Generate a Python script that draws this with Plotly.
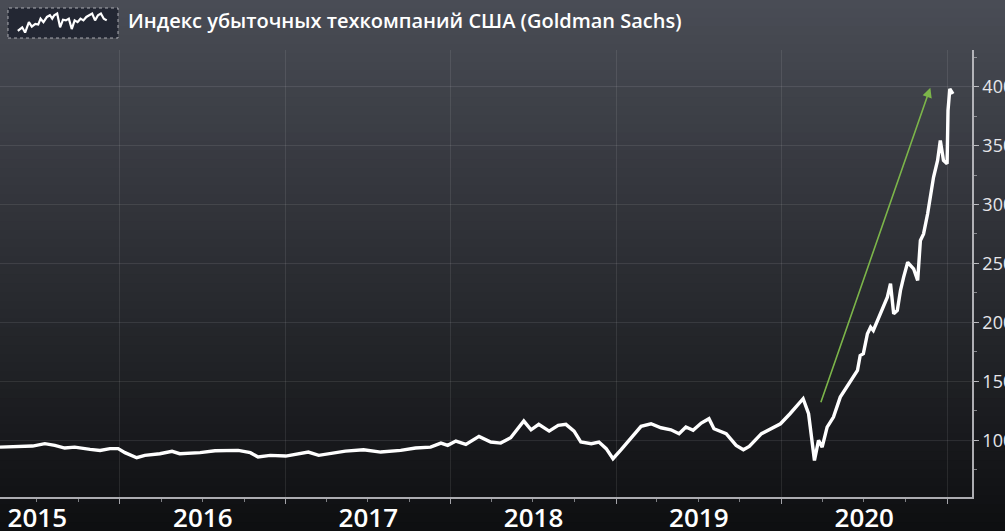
import plotly.graph_objects as go

# ---- data ----
dates = [
    "2015-04-11", "2015-06-22", "2015-07-19", "2015-08-10", "2015-09-01", "2015-09-23",
    "2015-10-27", "2015-11-18", "2015-12-10", "2015-12-28", "2016-01-12", "2016-02-07",
    "2016-02-25", "2016-03-29", "2016-04-25", "2016-05-12", "2016-06-26", "2016-07-29",
    "2016-09-18", "2016-10-15", "2016-11-01", "2016-11-28", "2017-01-01", "2017-02-03",
    "2017-02-20", "2017-03-15", "2017-04-10", "2017-05-13", "2017-06-22", "2017-07-30",
    "2017-09-12", "2017-10-15", "2017-11-17", "2017-12-10", "2017-12-25", "2018-01-12",
    "2018-02-03", "2018-03-04", "2018-03-30", "2018-04-21", "2018-05-13", "2018-06-11",
    "2018-06-27", "2018-07-14", "2018-08-06", "2018-08-26", "2018-09-12", "2018-09-30",
    "2018-10-15", "2018-11-07", "2018-11-24", "2018-12-10", "2018-12-25", "2019-01-12",
    "2019-02-25", "2019-03-19", "2019-04-10", "2019-05-02", "2019-05-20", "2019-06-04",
    "2019-06-20", "2019-07-08", "2019-07-25", "2019-08-05", "2019-09-01", "2019-09-23",
    "2019-10-09", "2019-10-22", "2019-11-18", "2019-12-10", "2019-12-30", "2020-01-20",
    "2020-02-05", "2020-02-18", "2020-03-01", "2020-03-14", "2020-03-23", "2020-03-31",
    "2020-04-11", "2020-04-25", "2020-05-10", "2020-05-26", "2020-06-08", "2020-06-17",
    "2020-06-23", "2020-06-30", "2020-07-09", "2020-07-16", "2020-07-22", "2020-07-31",
    "2020-08-07", "2020-08-13", "2020-08-22", "2020-08-29", "2020-09-05", "2020-09-13",
    "2020-09-20", "2020-09-27", "2020-10-06", "2020-10-19", "2020-10-28", "2020-11-03",
    "2020-11-10", "2020-11-19", "2020-11-25", "2020-12-02", "2020-12-11", "2020-12-17",
    "2020-12-24", "2021-01-01", "2021-01-03", "2021-01-07", "2021-01-14",
]
values = [
    94.3, 95.2, 97.2, 95.8, 93.5, 94.3,
    92.4, 91.5, 93.0, 93.0, 89.6, 85.3,
    87.3, 88.7, 90.7, 88.7, 89.6, 91.2,
    91.5, 89.6, 85.9, 87.3, 86.7, 88.7,
    90.1, 87.3, 88.7, 90.9, 92.1, 90.1,
    91.5, 93.5, 94.3, 97.7, 95.8, 99.4,
    96.6, 103.4, 98.6, 97.7, 102.3, 116.4,
    109.0, 113.6, 107.9, 112.7, 113.6, 107.9,
    98.6, 97.2, 98.6, 93.0, 84.5, 92.1,
    111.9, 114.1, 110.7, 109.0, 105.7, 111.3,
    108.5, 114.7, 118.4, 109.9, 105.7, 95.8,
    92.1, 94.9, 105.7, 109.9, 114.1, 122.6,
    129.7, 135.3, 122.6, 83.0, 100.0, 94.3,
    111.3, 119.8, 136.7, 146.6, 153.6, 159.3,
    172.0, 173.5, 190.4, 196.0, 193.2, 201.7,
    207.3, 213.0, 221.4, 232.8, 207.3, 210.2,
    227.1, 238.4, 251.0, 245.5, 235.6, 269.5,
    275.1, 292.1, 306.2, 323.1, 337.3, 354.2,
    337.3, 334.5, 379.7, 398.0, 393.8,
]

y_ticks = [100, 150, 200, 250, 300, 350, 400]
x_range = ["2015-04-11", "2021-02-25"]
y_range = [52, 431]

arrow_tail = ("2020-03-27", 131)
arrow_head = ("2020-11-25", 399)

title_text = "Индекс убыточных техкомпаний США (Goldman Sachs)"

icon_x = [40, 55, 65, 78, 88, 100, 110, 118, 128, 140, 150, 158, 165, 175, 185, 195,
          205, 215, 225, 235, 245, 255, 265, 275, 285, 295, 305, 315, 325, 335, 345]
icon_y = [55, 65, 50, 80, 67, 75, 73, 90, 80, 95, 100, 90, 100, 105, 65, 87,
          85, 90, 60, 85, 80, 90, 85, 95, 100, 105, 85, 100, 105, 90, 85]

# ---- figure ----
W, H = 1005, 531
ML, MR, MT, MB = 0, 33, 0, 34
PW, PH = W - ML - MR, H - MT - MB
plot_top_px = 50


def px_x(p):
    return (p - ML) / PW


def px_y(p):
    return (H - MB - p) / PH


fig = go.Figure()

fig.add_trace(go.Scatter(
    x=dates, y=values, mode="lines",
    line=dict(color="white", width=3.4, shape="linear"),
    xaxis="x", yaxis="y", showlegend=False, hoverinfo="x+y",
))

fig.add_trace(go.Scatter(
    x=icon_x, y=icon_y, mode="lines",
    line=dict(color="white", width=2.2),
    xaxis="x2", yaxis="y2", showlegend=False, hoverinfo="skip",
))

# background gradient (decoration)
shapes = []
n = 60
top_c = (74, 77, 86)
bot_c = (14, 15, 17)
for i in range(n):
    t0 = i / n
    t1 = (i + 1) / n
    tm = (t0 + t1) / 2
    c = tuple(int(top_c[k] + (bot_c[k] - top_c[k]) * tm) for k in range(3))
    shapes.append(dict(
        type="rect", xref="paper", yref="paper",
        x0=px_x(-5), x1=px_x(W + 5),
        y0=px_y(t1 * H + 1), y1=px_y(t0 * H),
        fillcolor="rgb(%d,%d,%d)" % c, line=dict(width=0), layer="below",
    ))

# legend-icon box
shapes.append(dict(
    type="rect", xref="paper", yref="paper",
    x0=px_x(8), x1=px_x(118), y0=px_y(38), y1=px_y(8),
    fillcolor="#232733", line=dict(color="rgba(210,210,215,0.75)", width=1, dash="dot"),
    layer="below",
))

fig.update_layout(
    width=W, height=H,
    margin=dict(l=ML, r=MR, t=MT, b=MB, pad=0),
    paper_bgcolor="#1c1d21",
    plot_bgcolor="rgba(0,0,0,0)",
    shapes=shapes,
    font=dict(family="Open Sans", color="white"),
    xaxis=dict(
        type="date", range=x_range, domain=[0, 1],
        dtick="M12", tick0="2015-01-01", tickformat="%Y",
        ticklabelmode="period", ticklabelstandoff=-8,
        ticks="outside", ticklen=5, tickcolor="rgba(200,200,205,0.8)",
        tickfont=dict(family="Open Sans", size=26, color="white", weight=600),
        showline=True, linecolor="rgba(200,200,205,0.85)", linewidth=1.5,
        showgrid=True, gridcolor="rgba(255,255,255,0.09)", gridwidth=1,
        zeroline=False, automargin=False,
        minor=dict(dtick="M3", ticks="outside", ticklen=3,
                   tickcolor="rgba(200,200,205,0.6)", showgrid=False),
        anchor="y", fixedrange=True,
    ),
    yaxis=dict(
        range=y_range, domain=[0, px_y(plot_top_px)],
        side="right", tickvals=y_ticks,
        ticks="outside", ticklen=5, tickcolor="rgba(200,200,205,0.85)",
        tickfont=dict(family="Open Sans", size=18, color="#e6e6ea"),
        showline=True, linecolor="rgba(200,200,205,0.85)", linewidth=1.5,
        showgrid=True, gridcolor="rgba(255,255,255,0.09)", gridwidth=1,
        zeroline=False, automargin=False,
        minor=dict(dtick=25, tick0=75, ticks="outside", ticklen=3,
                   tickcolor="rgba(200,200,205,0.6)", showgrid=False),
        anchor="x", fixedrange=True,
    ),
    xaxis2=dict(
        domain=[px_x(12), px_x(114)], range=[20, 370],
        visible=False, anchor="y2", fixedrange=True,
    ),
    yaxis2=dict(
        domain=[px_y(36), px_y(10)], range=[40, 115],
        visible=False, anchor="x2", fixedrange=True,
    ),
    annotations=[
        dict(
            x=arrow_head[0], y=arrow_head[1], ax=arrow_tail[0], ay=arrow_tail[1],
            xref="x", yref="y", axref="x", ayref="y",
            showarrow=True, arrowhead=2, arrowsize=1.2, arrowwidth=1.6,
            arrowcolor="#7cb54a", text="",
        ),
        dict(
            text=title_text, xref="paper", yref="paper",
            x=px_x(126), y=px_y(20), xanchor="left", yanchor="middle",
            showarrow=False,
            font=dict(family="Open Sans", size=20, color="white", weight=600),
        ),
    ],
)

fig.write_html(
    "out.html",
    config={"displayModeBar": False},
    post_script="document.body.style.margin='0';document.body.style.overflow='hidden';",
)
